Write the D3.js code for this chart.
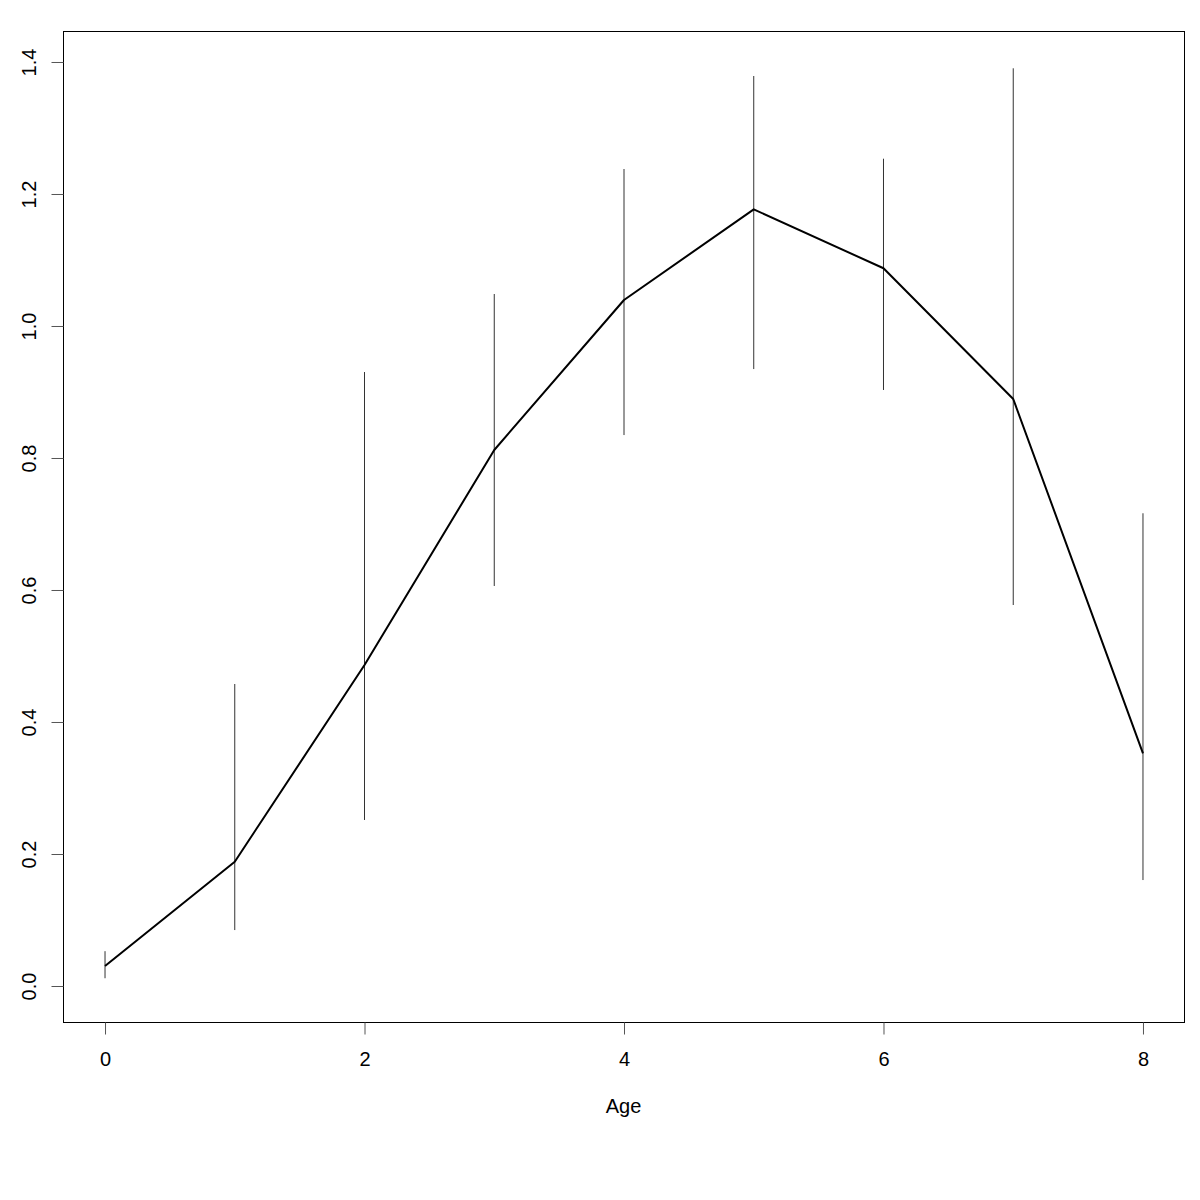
<!DOCTYPE html>
<html lang="en">
<head>
<meta charset="UTF-8">
<title>Age plot</title>
<script src="https://d3js.org/d3.v7.min.js"></script>
<style>
  body { margin: 0; background: #fff; }
  svg { display: block; font-family: "Liberation Sans", Arial, sans-serif; }
</style>
</head>
<body>
<svg id="chart" width="1200" height="1200"></svg>
<script>
// values
const ages = [0, 1, 2, 3, 4, 5, 6, 7, 8];
const means = [0.0295, 0.1876, 0.4856, 0.8114, 1.0386, 1.1760, 1.0867, 0.8886, 0.3518];
const upper = [0.052, 0.4568, 0.9295, 1.0477, 1.2371, 1.3780, 1.2527, 1.3897, 0.7155];
const lower = [0.011, 0.084, 0.2508, 0.6053, 0.834, 0.934, 0.9023, 0.5765, 0.1598];
const xTicks = [0, 2, 4, 6, 8];
const yTicks = [0, 0.2, 0.4, 0.6, 0.8, 1.0, 1.2, 1.4];

const svg = d3.select('#chart');
const box = { left: 63, right: 1184, top: 31, bottom: 1022 };
const font = '"Liberation Sans", Arial, sans-serif';

// R style 4% padding around the data range
const x = d3.scaleLinear().domain([-0.32, 8.32]).range([box.left, box.right]);
const y = d3.scaleLinear().domain([-0.0553, 1.4462]).range([box.bottom, box.top]);

// error bars
svg.append('g')
  .selectAll('line')
  .data(ages)
  .join('line')
  .attr('x1', (d, i) => x(d) + 0.5)
  .attr('x2', (d, i) => x(d) + 0.5)
  .attr('y1', (d, i) => y(upper[i]))
  .attr('y2', (d, i) => y(lower[i]))
  .attr('stroke', '#333')
  .attr('stroke-width', 1);

// mean line
const line = d3.line()
  .x((d, i) => x(d) + 0.5)
  .y((d, i) => y(means[i]));

svg.append('path')
  .datum(ages)
  .attr('d', line)
  .attr('fill', 'none')
  .attr('stroke', '#000')
  .attr('stroke-width', 2)
  .attr('stroke-linejoin', 'round');

// plot frame
svg.append('rect')
  .attr('x', box.left + 0.5)
  .attr('y', box.top + 0.5)
  .attr('width', box.right - box.left)
  .attr('height', box.bottom - box.top)
  .attr('fill', 'none')
  .attr('stroke', '#000')
  .attr('stroke-width', 1);

// x axis
const xAxis = svg.append('g')
  .attr('transform', `translate(0.5,${box.bottom + 0.5})`)
  .call(d3.axisBottom(x).tickValues(xTicks).tickSize(12).tickFormat(d3.format('d')))
  .attr('font-family', font)
  .attr('font-size', 20);
xAxis.select('.domain')
  .attr('d', `M${x(0)},0H${x(8)}`)
  .attr('stroke', '#000');
xAxis.selectAll('.tick line').attr('stroke', '#555');
xAxis.selectAll('.tick text')
  .attr('fill', '#000')
  .attr('dy', null)
  .attr('y', 43);

// y axis
const yAxis = svg.append('g')
  .attr('transform', `translate(${box.left + 0.5},0.5)`)
  .call(d3.axisLeft(y).tickValues(yTicks).tickSize(12).tickFormat(d3.format('.1f')))
  .attr('font-family', font)
  .attr('font-size', 20);
yAxis.select('.domain')
  .attr('d', `M0,${y(0)}V${y(1.4)}`)
  .attr('stroke', '#000');
yAxis.selectAll('.tick line').attr('stroke', '#555');
yAxis.selectAll('.tick text')
  .attr('fill', '#000')
  .attr('x', null)
  .attr('dy', null)
  .attr('y', 0)
  .attr('text-anchor', 'middle')
  .attr('transform', 'translate(-28,0) rotate(-90)');

// axis title
svg.append('text')
  .attr('x', (x(0) + x(8)) / 2)
  .attr('y', 1113)
  .attr('text-anchor', 'middle')
  .attr('font-family', font)
  .attr('font-size', 20)
  .text('Age');
</script>
</body>
</html>
